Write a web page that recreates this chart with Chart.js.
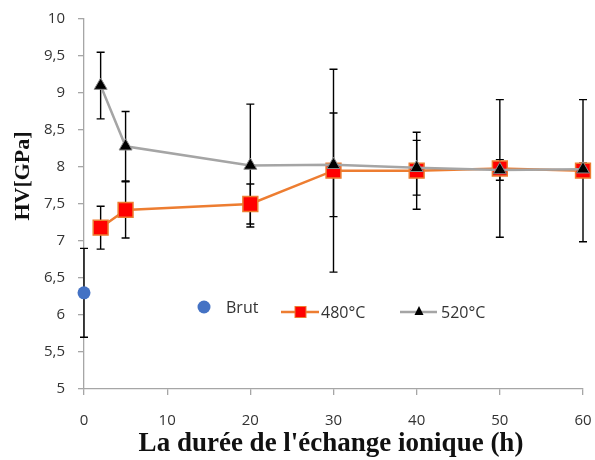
<!DOCTYPE html>
<html>
<head>
<meta charset="utf-8">
<script src="https://cdn.jsdelivr.net/npm/chart.js@4.4.1/dist/chart.umd.min.js"></script>
<style>
html,body{margin:0;padding:0;background:#fff;}
#wrap{width:595px;height:460px;position:relative;}
</style>
</head>
<body>
<div id="wrap"><canvas id="c" width="595" height="460"></canvas></div>
<script>
// ---- data ----
const hoursBrut = [0];
const hvBrut = [6.3];
const errBrut = [0.6];

const hours480 = [2, 5, 20, 30, 40, 50, 60];
const hv480 = [7.18, 7.42, 7.5, 7.95, 7.95, 7.98, 7.95];
const err480 = [0.29, 0.38, 0.27, 1.37, 0.52, 0.93, 0.96];

const hours520 = [2, 5, 20, 30, 40, 50, 60];
const hv520 = [9.1, 8.28, 8.02, 8.03, 7.99, 7.96, 7.97];
const err520 = [0.45, 0.47, 0.83, 0.70, 0.37, 0.14, 0.08];

const seriesNames = ['Brut', '480°C', '520°C'];
const xTicks = [0, 10, 20, 30, 40, 50, 60];
const yTicks = [5, 5.5, 6, 6.5, 7, 7.5, 8, 8.5, 9, 9.5, 10];
const xTitle = "La durée de l'échange ionique (h)";
const yTitle = 'HV[GPa]';

const toPts = (xs, ys) => xs.map((x, i) => ({x: x, y: ys[i]}));
const errorsByDataset = [errBrut, err480, err520];

const errorBars = {
  id: 'errorBars',
  beforeDatasetsDraw(chart) {
    const ctx = chart.ctx;
    const xs = chart.scales.x, ys = chart.scales.y;
    ctx.save();
    ctx.strokeStyle = '#000';
    ctx.lineWidth = 1.4;
    chart.data.datasets.forEach((ds, di) => {
      const errs = errorsByDataset[di];
      ds.data.forEach((p, i) => {
        const e = errs[i];
        const px = xs.getPixelForValue(p.x);
        const top = ys.getPixelForValue(p.y + e);
        const bot = ys.getPixelForValue(p.y - e);
        ctx.beginPath();
        ctx.moveTo(px, top); ctx.lineTo(px, bot);
        ctx.moveTo(px - 4, top); ctx.lineTo(px + 4, top);
        ctx.moveTo(px - 4, bot); ctx.lineTo(px + 4, bot);
        ctx.stroke();
      });
    });
    ctx.restore();
  }
};

const customText = {
  id: 'customText',
  afterDraw(chart) {
    const ctx = chart.ctx;
    ctx.save();
    // axis titles
    ctx.fillStyle = '#111';
    ctx.textAlign = 'center';
    ctx.textBaseline = 'middle';
    ctx.font = 'bold 27px "Liberation Serif", "Times New Roman", serif';
    ctx.fillText(xTitle, 331, 444);
    ctx.save();
    ctx.translate(23, 176);
    ctx.rotate(-Math.PI / 2);
    ctx.font = 'bold 22px "Liberation Serif", "Times New Roman", serif';
    ctx.fillText(yTitle, 0, 0);
    ctx.restore();

    // legend inside plot
    const ds = chart.data.datasets;
    ctx.font = '16px "Open Sans", sans-serif';
    ctx.textAlign = 'left';
    // Brut
    ctx.beginPath();
    ctx.fillStyle = ds[0].backgroundColor;
    ctx.arc(204, 307, 6.5, 0, Math.PI * 2);
    ctx.fill();
    ctx.fillStyle = '#333';
    ctx.fillText(seriesNames[0], 226, 308);
    // 480
    ctx.strokeStyle = ds[1].borderColor;
    ctx.lineWidth = 2.5;
    ctx.beginPath(); ctx.moveTo(281, 312); ctx.lineTo(319, 312); ctx.stroke();
    ctx.fillStyle = ds[1].pointBackgroundColor;
    ctx.fillRect(295, 306.5, 11, 11);
    ctx.lineWidth = 1;
    ctx.strokeRect(295, 306.5, 11, 11);
    ctx.fillStyle = '#333';
    ctx.fillText(seriesNames[1], 321, 313);
    // 520
    ctx.strokeStyle = ds[2].borderColor;
    ctx.lineWidth = 2.5;
    ctx.beginPath(); ctx.moveTo(400, 312); ctx.lineTo(437, 312); ctx.stroke();
    ctx.fillStyle = '#000';
    ctx.beginPath();
    ctx.moveTo(419, 306); ctx.lineTo(423.5, 315); ctx.lineTo(414.5, 315); ctx.closePath();
    ctx.fill();
    ctx.fillStyle = '#333';
    ctx.fillText(seriesNames[2], 441, 313);
    ctx.restore();
  }
};

const zeroPad = (s) => { s.paddingLeft = 0; s.paddingRight = 0; s.paddingTop = 0; s.paddingBottom = 0; };

new Chart(document.getElementById('c'), {
  type: 'scatter',
  data: {
    datasets: [
      {
        label: seriesNames[0],
        data: toPts(hoursBrut, hvBrut),
        backgroundColor: '#4472C4',
        borderColor: '#4472C4',
        pointStyle: 'circle',
        pointRadius: 6.5,
        pointBorderWidth: 0,
        showLine: false,
        clip: false,
        order: 2
      },
      {
        label: seriesNames[1],
        data: toPts(hours480, hv480),
        borderColor: '#ED7D31',
        backgroundColor: '#ED7D31',
        pointBackgroundColor: '#FF0000',
        pointBorderColor: '#ED7D31',
        pointBorderWidth: 1.5,
        pointStyle: 'rect',
        pointRadius: 10.5,
        borderWidth: 2.5,
        showLine: true,
        clip: false,
        order: 1
      },
      {
        label: seriesNames[2],
        data: toPts(hours520, hv520),
        borderColor: '#A5A5A5',
        backgroundColor: '#A5A5A5',
        pointBackgroundColor: '#000000',
        pointBorderColor: '#8a8a8a',
        pointBorderWidth: 1,
        pointStyle: 'triangle',
        pointRadius: 7.5,
        borderWidth: 2.5,
        showLine: true,
        clip: false,
        order: 0
      }
    ]
  },
  options: {
    responsive: false,
    animation: false,
    devicePixelRatio: 1,
    layout: { padding: { top: 19, right: 10, left: 0, bottom: 0 } },
    plugins: { legend: { display: false }, tooltip: { enabled: false } },
    scales: {
      x: {
        type: 'linear',
        min: 0, max: 60,
        afterBuildTicks: (s) => { s.ticks = xTicks.map(v => ({value: v})); },
        afterFit: (s) => { s.height = 71; zeroPad(s); },
        grid: { display: true, drawOnChartArea: false, drawTicks: true, tickLength: 6, color: '#a6a6a6', lineWidth: 1.3 },
        border: { color: '#a6a6a6', width: 1.3 },
        ticks: { color: '#333', font: { family: '"Open Sans", sans-serif', size: 15 }, padding: 17, maxRotation: 0 }
      },
      y: {
        type: 'linear',
        min: 5, max: 10,
        afterBuildTicks: (s) => { s.ticks = yTicks.map(v => ({value: v})); },
        afterFit: (s) => { s.width = 84; zeroPad(s); },
        grid: { display: true, drawOnChartArea: false, drawTicks: true, tickLength: 6, color: '#a6a6a6', lineWidth: 1.3 },
        border: { color: '#a6a6a6', width: 1.3 },
        ticks: {
          color: '#333', font: { family: '"Open Sans", sans-serif', size: 15 }, padding: 13,
          callback: (v) => String(v).replace('.', ',')
        }
      }
    }
  },
  plugins: [errorBars, customText]
});
</script>
</body>
</html>
